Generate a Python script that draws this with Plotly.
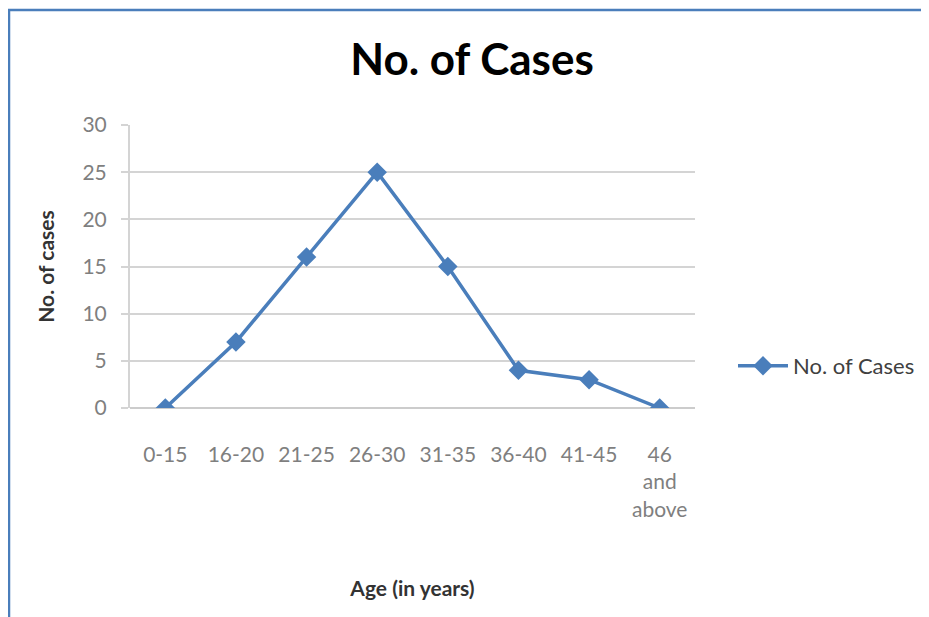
import plotly.graph_objects as go

age_groups = ["0-15", "16-20", "21-25", "26-30", "31-35", "36-40", "41-45", "46<br>and<br>above"]
cases = [0, 7, 16, 25, 15, 4, 3, 0]
y_ticks = [0, 5, 10, 15, 20, 25, 30]

BLUE = "#4a7ebb"
FONT = "Lato, Roboto, sans-serif"

fig = go.Figure()
fig.add_trace(go.Scatter(
    x=age_groups, y=cases, mode="lines+markers", name="No. of Cases",
    line=dict(color=BLUE, width=3.5),
    marker=dict(symbol="diamond", size=15, color=BLUE),
))

# page body adds an 8px offset, so figure coordinates are reference - 8
OFF = 8
W, H = 929, 617
L, T = 130 - OFF, 125 - OFF
plot_right, plot_bottom = 695 - OFF, 408 - OFF
R, B = W - plot_right, H - plot_bottom
pw, ph = plot_right - L, plot_bottom - T

fig.update_layout(
    width=W, height=H,
    margin=dict(l=L, r=R, t=T, b=B, autoexpand=False),
    paper_bgcolor="white", plot_bgcolor="white",
    font=dict(family=FONT, color="#595959", size=20),
    title=dict(text="<b>No. of Cases</b>", x=(472 - OFF) / W, xanchor="center",
               y=1 - (60 - OFF) / H, yanchor="middle",
               font=dict(family=FONT, size=44, color="black")),
    showlegend=True,
    legend=dict(x=(733 - OFF - L) / pw, y=(408 - 366) / ph, xanchor="left", yanchor="middle",
                font=dict(size=22, color="#404040"), itemwidth=50, bgcolor="rgba(0,0,0,0)"),
    xaxis=dict(
        type="category", range=[-0.5, 7.5], showgrid=False,
        showline=False, ticks="", ticklabelstandoff=32,
        tickfont=dict(size=21, color="#7f7f7f"),
        title=dict(text="<b>Age (in years)</b>", font=dict(size=21, color="#333333"), standoff=61),
        fixedrange=True,
    ),
    yaxis=dict(
        range=[0, 30], tickvals=y_ticks, showgrid=True, gridcolor="#d4d4d4", gridwidth=2,
        zeroline=True, zerolinecolor="#cccccc", zerolinewidth=2,
        showline=True, linecolor="#d4d4d4", linewidth=2,
        ticks="outside", ticklen=7, tickcolor="#d4d4d4", tickwidth=2, ticklabelstandoff=10,
        tickfont=dict(size=21, color="#7f7f7f"),
        title=dict(text="<b>No. of cases</b>", font=dict(size=21, color="#333333"), standoff=22),
    ),
)

# outer chart border
fig.add_shape(type="rect", xref="paper", yref="paper",
              x0=(9 - OFF - L) / pw, x1=(960 - L) / pw,
              y0=(plot_bottom - 660) / ph, y1=(plot_bottom - (10 - OFF)) / ph,
              line=dict(color=BLUE, width=2.5), fillcolor="rgba(0,0,0,0)", layer="below")

fig.write_html("out.html")
